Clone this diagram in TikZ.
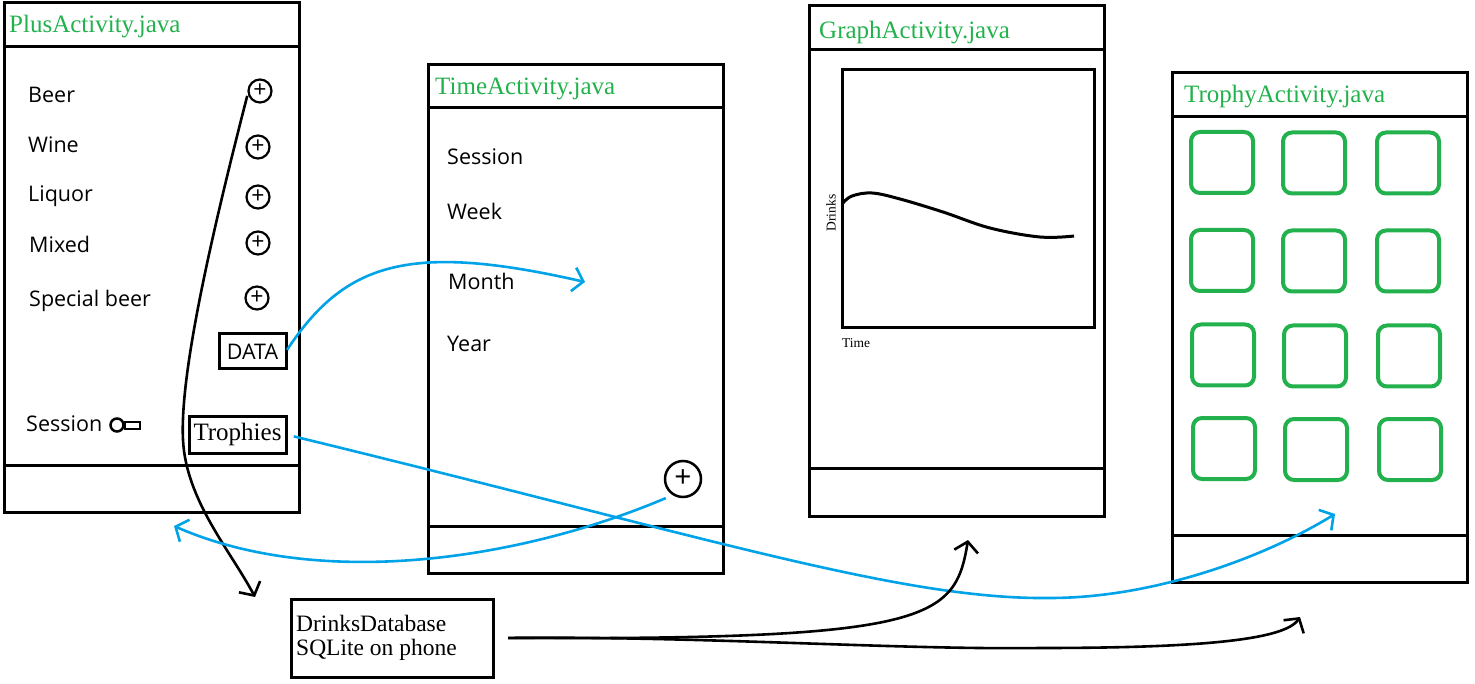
\documentclass[tikz,border=0pt]{standalone}
\usepackage{fontspec}
\setmainfont{Liberation Serif}
\newfontfamily\uifont{Open Sans}
\usetikzlibrary{arrows.meta,calc}
\definecolor{pgreen}{HTML}{22B14C}
\definecolor{pblue}{HTML}{00A2E8}
\tikzset{
  frame/.style={draw, line width=3pt, rectangle, inner sep=0pt, outer sep=0pt},
  divider/.style={line width=3pt},
  title/.style={anchor=base west, inner sep=0pt, text=pgreen, font=\fontsize{25}{28}\selectfont},
  item/.style={anchor=base west, inner sep=0pt, font=\uifont\fontsize{21.5}{24}\selectfont},
  plusbtn/.style={circle, draw, line width=2.2pt, minimum size=23pt, inner sep=0pt, outer sep=0pt, font=\uifont\fontsize{23}{23}\selectfont},
  bigplus/.style={circle, draw, line width=2.5pt, minimum size=36pt, inner sep=0pt, outer sep=0pt, font=\uifont\fontsize{30}{30}\selectfont},
  btnbox/.style={draw, line width=3pt, rectangle, inner sep=0pt, outer sep=0pt},
  trophy/.style={draw=pgreen, line width=4pt, rounded corners=9pt, inner sep=0pt, minimum width=62pt, minimum height=61pt},
  barrow/.style={draw=pblue, line width=2.6pt, -{Straight Barb[length=10pt,width=24pt]}},
  karrow/.style={draw=black, line width=2.6pt, -{Straight Barb[length=10pt,width=24pt]}},
  small/.style={inner sep=0pt, font=\fontsize{13.5}{15}\selectfont},
  dbtext/.style={anchor=base west, inner sep=0pt, font=\fontsize{23.5}{26}\selectfont}
}
\begin{document}
\begin{tikzpicture}[x=1pt,y=-1pt]
\useasboundingbox (0,0) rectangle (1475,684);

% ---------- PlusActivity ----------
\node[frame, minimum width=295pt, minimum height=509pt] (plus) at (151.5,257.5) {};
\draw[divider] (4,47) -- (299,47);
\draw[divider] (4,465) -- (299,465);
\node[title] (plustitle) at (9,33) {PlusActivity.java};
\node[item] (beer) at (28,103) {Beer};
\node[item] (wine) at (28,153) {Wine};
\node[item] (liquor) at (28,202) {Liquor};
\node[item] (mixed) at (29,253) {Mixed};
\node[item] (special) at (29,307) {Special beer};
\node[plusbtn] (pb1) at (260,91) {+};
\node[plusbtn] (pb2) at (258,147) {+};
\node[plusbtn] (pb3) at (258,197) {+};
\node[plusbtn] (pb4) at (258,243) {+};
\node[plusbtn] (pb5) at (257,298) {+};
\node[btnbox, minimum width=67pt, minimum height=35pt, font=\uifont\fontsize{21.5}{24}\selectfont] (data) at (252.5,351.5) {DATA};
\node[btnbox, minimum width=97pt, minimum height=37pt, font=\fontsize{25}{28}\selectfont] (troph) at (237.5,434.5) {Trophies};
\node[item] (session) at (26,431) {Session};
\node[draw, line width=2.5pt, minimum width=15pt, minimum height=7pt, inner sep=0pt] (togglebar) at (132.5,425.5) {};
\node[draw, fill=white, circle, line width=2.5pt, minimum size=13pt, inner sep=0pt] (toggleknob) at (117,425) {};

% ---------- TimeActivity ----------
\node[frame, minimum width=295pt, minimum height=508pt] (time) at (575.5,319) {};
\draw[divider] (428,108) -- (723,108);
\draw[divider] (428,526) -- (723,526);
\node[title] (timetitle) at (435,95) {TimeActivity.java};
\node[item] (tsession) at (447,165) {Session};
\node[item] (tweek) at (447,220) {Week};
\node[item] (tmonth) at (448,290) {Month};
\node[item] (tyear) at (447,352) {Year};
\node[bigplus] (tplus) at (683,479) {+};

% ---------- GraphActivity ----------
\node[frame, minimum width=295pt, minimum height=510pt] (graph) at (956.5,261) {};
\draw[divider] (809,50) -- (1104,50);
\draw[divider] (809,468) -- (1104,468);
\node[title] (graphtitle) at (819,39) {GraphActivity.java};
\node[frame, minimum width=252pt, minimum height=258pt] (plotbox) at (968,199) {};
\draw[line width=3pt] plot[smooth, tension=0.6] coordinates {(843,203) (852,196) (872,193) (900,199) (943,212) (990,228) (1040,237) (1074,236)};
\node[small, rotate=90] (ylab) at (831,213) {Drinks};
\node[small, anchor=base west] (xlab) at (842,348) {Time};

% ---------- TrophyActivity ----------
\node[frame, minimum width=295pt, minimum height=509pt] (trophy) at (1319.5,327.5) {};
\draw[divider] (1172,117) -- (1467,117);
\draw[divider] (1172,535) -- (1467,535);
\node[title] (trophytitle) at (1184,103) {TrophyActivity.java};
\node[trophy] (t11) at (1222,162.5) {};
\node[trophy] (t12) at (1314,163) {};
\node[trophy] (t13) at (1408,163) {};
\node[trophy] (t21) at (1222,260.5) {};
\node[trophy] (t22) at (1314,261) {};
\node[trophy] (t23) at (1408,261) {};
\node[trophy] (t31) at (1223,355) {};
\node[trophy] (t32) at (1315,356) {};
\node[trophy] (t33) at (1409,356) {};
\node[trophy] (t41) at (1224,448.5) {};
\node[trophy] (t42) at (1316,449.5) {};
\node[trophy] (t43) at (1410,449.5) {};

% ---------- Database ----------
\node[frame, minimum width=202pt, minimum height=78pt] (db) at (392,638) {};
\node[dbtext] (dbname) at (296,631) {DrinksDatabase};
\node[dbtext] (dbkind) at (296,655) {SQLite on phone};

% ---------- free ends ----------
\coordinate (monthtip) at (585,282);
\coordinate (trophytip) at (1335,514);
\coordinate (plustip) at (174,526);
\coordinate (dbtip) at (255,597);
\coordinate (graphtip) at (968,540);
\coordinate (trophytip2) at (1300,617);

% ---------- connectors ----------
\draw[karrow, shorten <=5pt] (pb1.west) .. controls (205,260) and (180,380) .. (183,440)
      .. controls (186,500) and (230,550) .. (dbtip);
\draw[barrow, shorten <=2pt] (data.east) .. controls (345,262) and (410,242) .. (monthtip);
\draw[barrow, shorten <=8pt] (troph.east) .. controls (700,535) and (900,600) .. (1050,598)
      .. controls (1150,598) and (1260,560) .. (trophytip);
\draw[barrow, shorten <=9pt] (tplus.240) .. controls (520,560) and (320,590) .. (plustip);
\draw[karrow, shorten <=15pt] (db.east) .. controls (930,640) and (955,620) .. (graphtip);
\draw[karrow, shorten <=15pt] (db.east) .. controls (700,636) and (900,650) .. (1040,648)
      .. controls (1200,648) and (1285,640) .. (trophytip2);
\end{tikzpicture}
\end{document}
